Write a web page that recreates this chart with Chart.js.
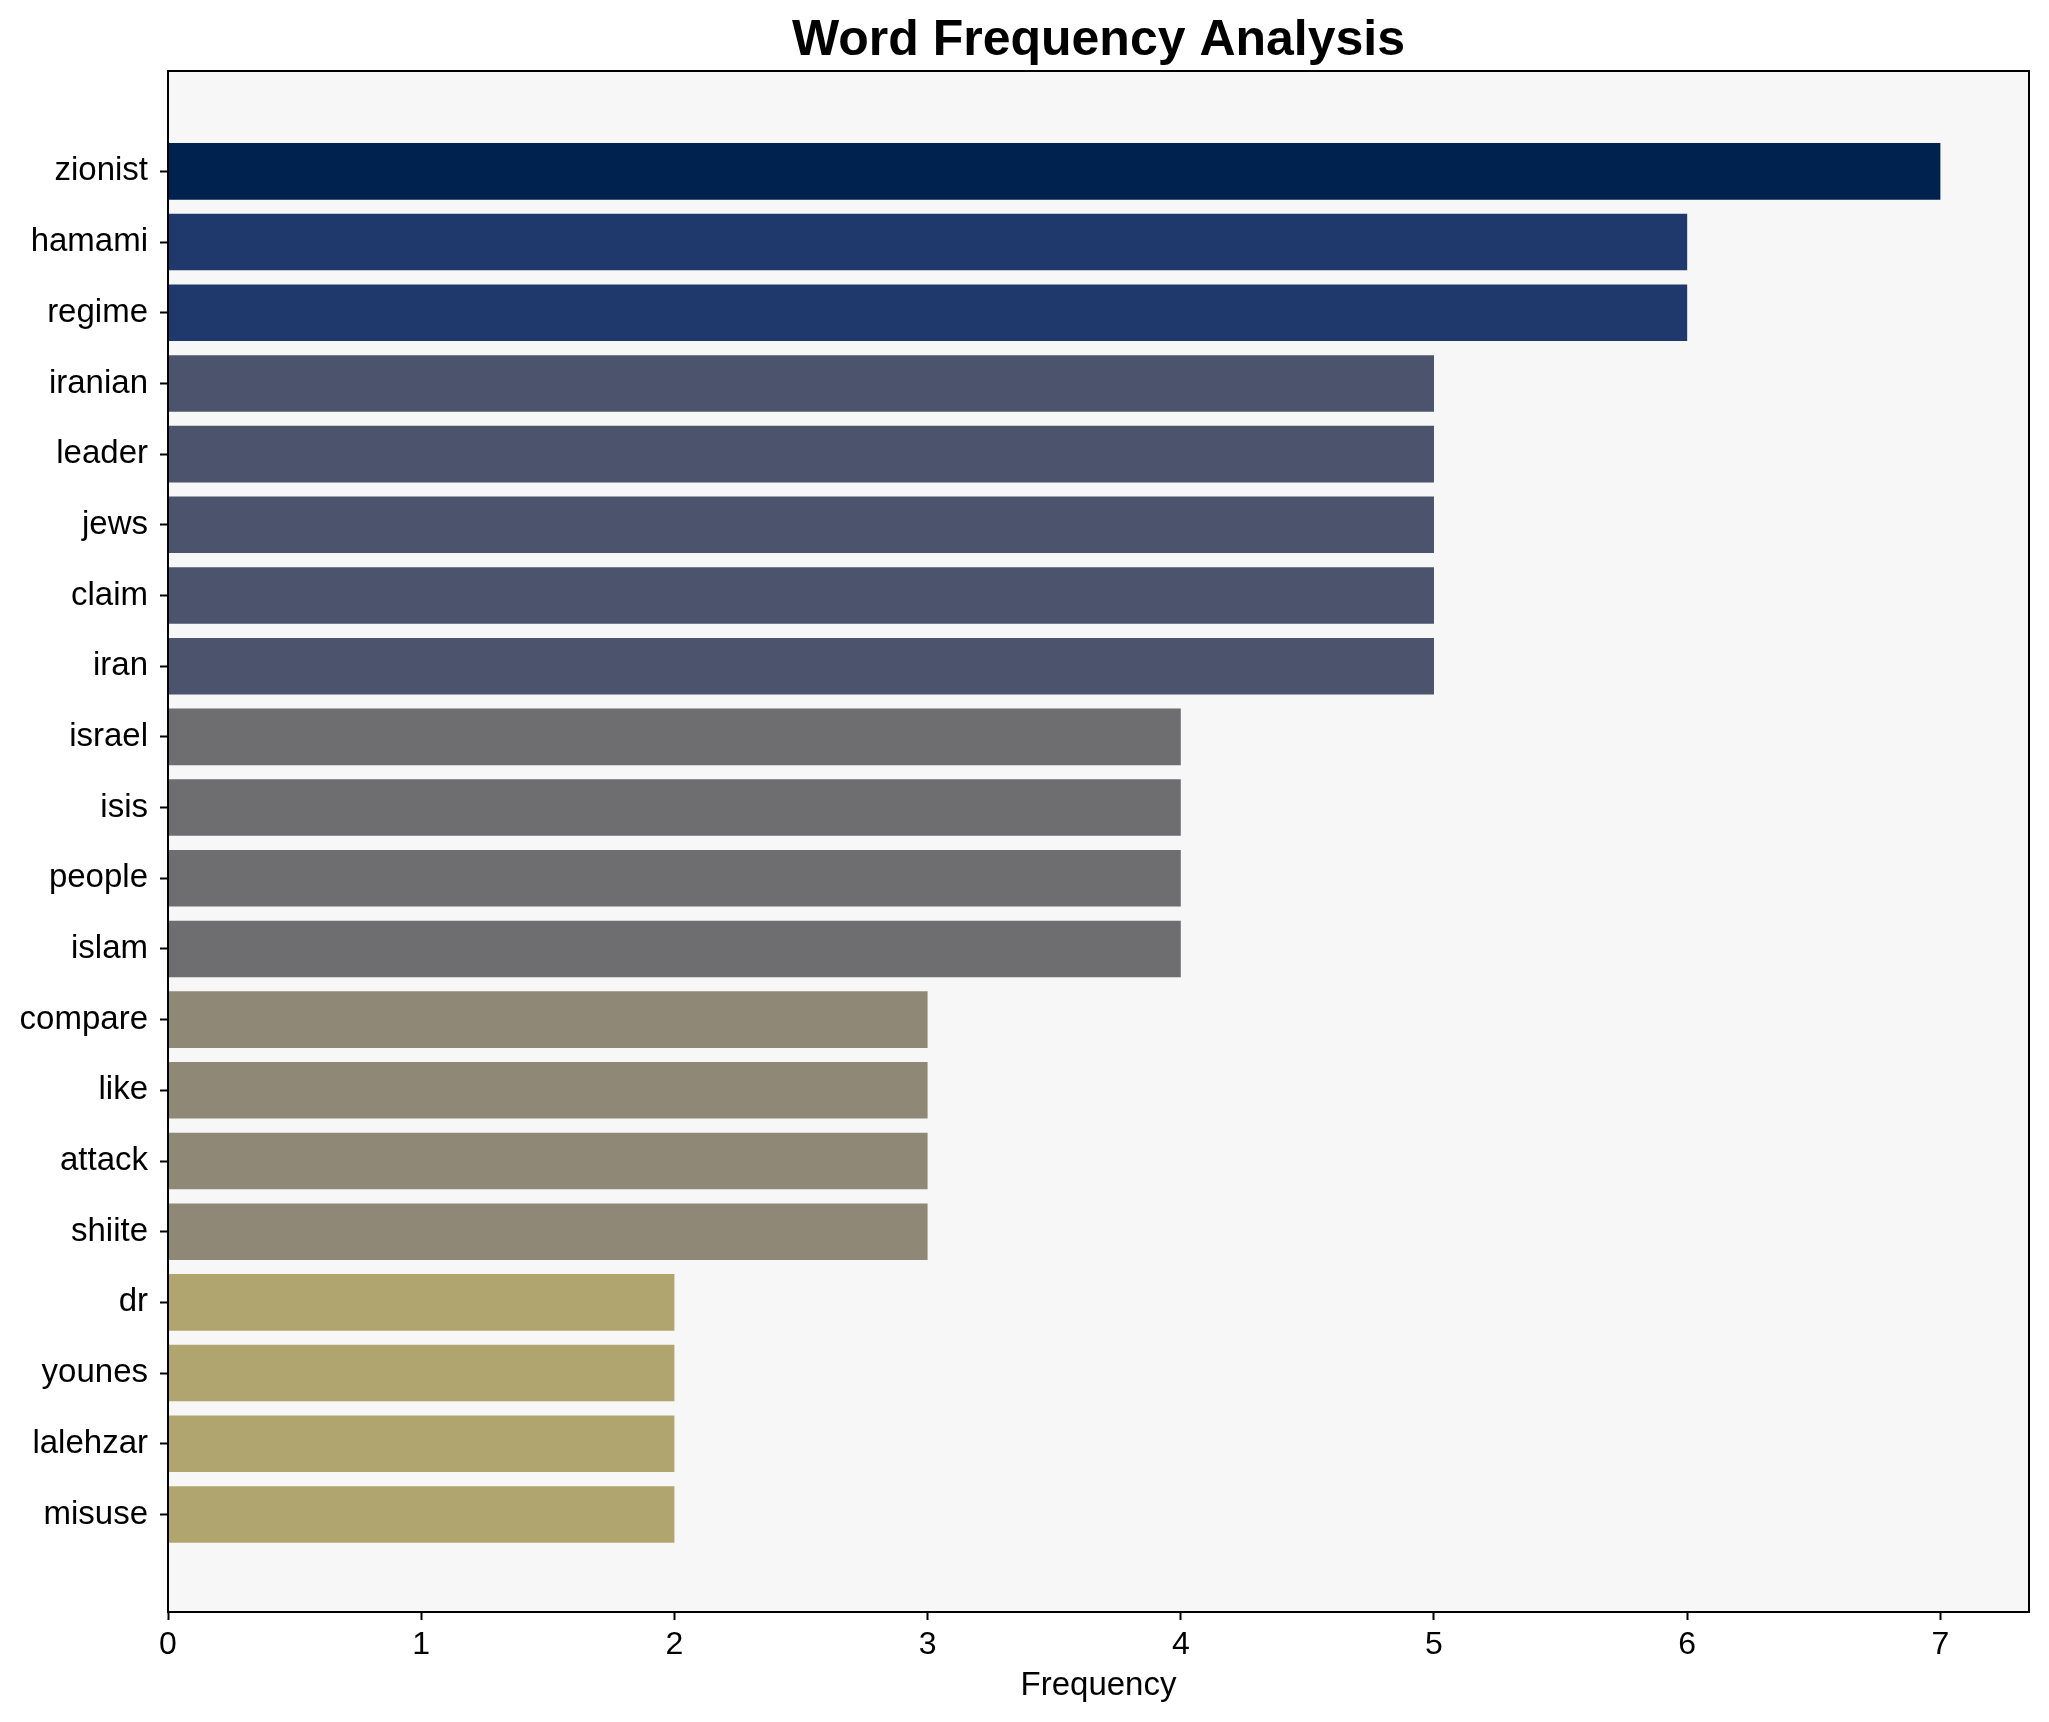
<!DOCTYPE html>
<html>
<head>
<meta charset="utf-8">
<script src="https://cdn.jsdelivr.net/npm/chart.js@4.4.0/dist/chart.umd.min.js"></script>
<style>
  body { margin: 0; background: #ffffff; }
  canvas { display: block; }
</style>
</head>
<body>
<canvas id="chart" width="2049" height="1722"></canvas>
<script>
const words = ["zionist", "hamami", "regime", "iranian", "leader", "jews", "claim", "iran",
  "israel", "isis", "people", "islam", "compare", "like", "attack", "shiite",
  "dr", "younes", "lalehzar", "misuse"];
const counts = [7, 6, 6, 5, 5, 5, 5, 5, 4, 4, 4, 4, 3, 3, 3, 3, 2, 2, 2, 2];

// colour by frequency, cividis-like
function getColorForCount(n) {
  const colorMap = {
    7: "#00224e",
    6: "#20396c",
    5: "#4b546c",
    4: "#6e6e71",
    3: "#8f8877",
    2: "#b0a46f",
  };
  return colorMap[n] || "#cccccc";
}

const FONT = "'Liberation Sans', Arial, sans-serif";

const plotBox = {
  id: "plotBox",
  beforeDatasetsDraw(chart) {
    const { ctx, chartArea: a } = chart;
    ctx.save();
    ctx.fillStyle = "#f7f7f7";
    ctx.fillRect(a.left, a.top, a.right - a.left, a.bottom - a.top);
    ctx.restore();
  },
  afterDatasetsDraw(chart) {
    const { ctx, chartArea: a } = chart;
    ctx.save();
    ctx.strokeStyle = "#000000";
    ctx.lineWidth = 2;
    ctx.strokeRect(a.left, a.top, a.right - a.left, a.bottom - a.top);
    ctx.restore();
  },
};

new Chart(document.getElementById("chart"), {
  type: "bar",
  data: {
    datasets: [{
      data: words.map((w, i) => ({ x: counts[i], y: i })),
      backgroundColor: counts.map(getColorForCount),
      borderWidth: 0,
      barPercentage: 0.8,
      categoryPercentage: 1.0,
    }],
  },
  options: {
    indexAxis: "y",
    responsive: false,
    devicePixelRatio: 1,
    animation: false,
    layout: { padding: { left: 0, right: 20, top: 0, bottom: 0 } },
    plugins: {
      legend: { display: false },
      tooltip: { enabled: false },
      title: {
        display: true,
        fullSize: false,
        text: "Word Frequency Analysis",
        color: "#000000",
        font: { family: FONT, size: 50, weight: "bold" },
        padding: { top: 11, bottom: 0 },
      },
    },
    scales: {
      x: {
        type: "linear",
        min: 0,
        max: 7.35,
        grid: { display: true, drawOnChartArea: false, drawTicks: true, tickLength: 8, tickColor: "#000000", tickWidth: 2 },
        border: { display: true, color: "#000000", width: 2 },
        ticks: { stepSize: 1, includeBounds: false, color: "#000000", font: { family: FONT, size: 32 }, padding: 6, maxRotation: 0 },
        title: { display: true, text: "Frequency", color: "#000000", font: { family: FONT, size: 33 }, padding: { top: 4, bottom: 16 } },
        afterFit(scale) { scale.height = 110; },
      },
      y: {
        type: "linear",
        reverse: true,
        offset: false,
        min: -1.42,
        max: 20.38,
        grid: { display: true, offset: false, drawOnChartArea: false, drawTicks: true, tickLength: 8, tickColor: "#000000", tickWidth: 2 },
        border: { display: true, color: "#000000", width: 2 },
        afterBuildTicks(scale) { scale.ticks = words.map((w, i) => ({ value: i })); },
        ticks: {
          autoSkip: false,
          color: "#000000",
          font: { family: FONT, size: 33 },
          padding: 12,
          callback: (v) => words[v] ?? "",
        },
        afterFit(scale) { scale.width = 168; },
      },
    },
  },
  plugins: [plotBox],
});
</script>
</body>
</html>
